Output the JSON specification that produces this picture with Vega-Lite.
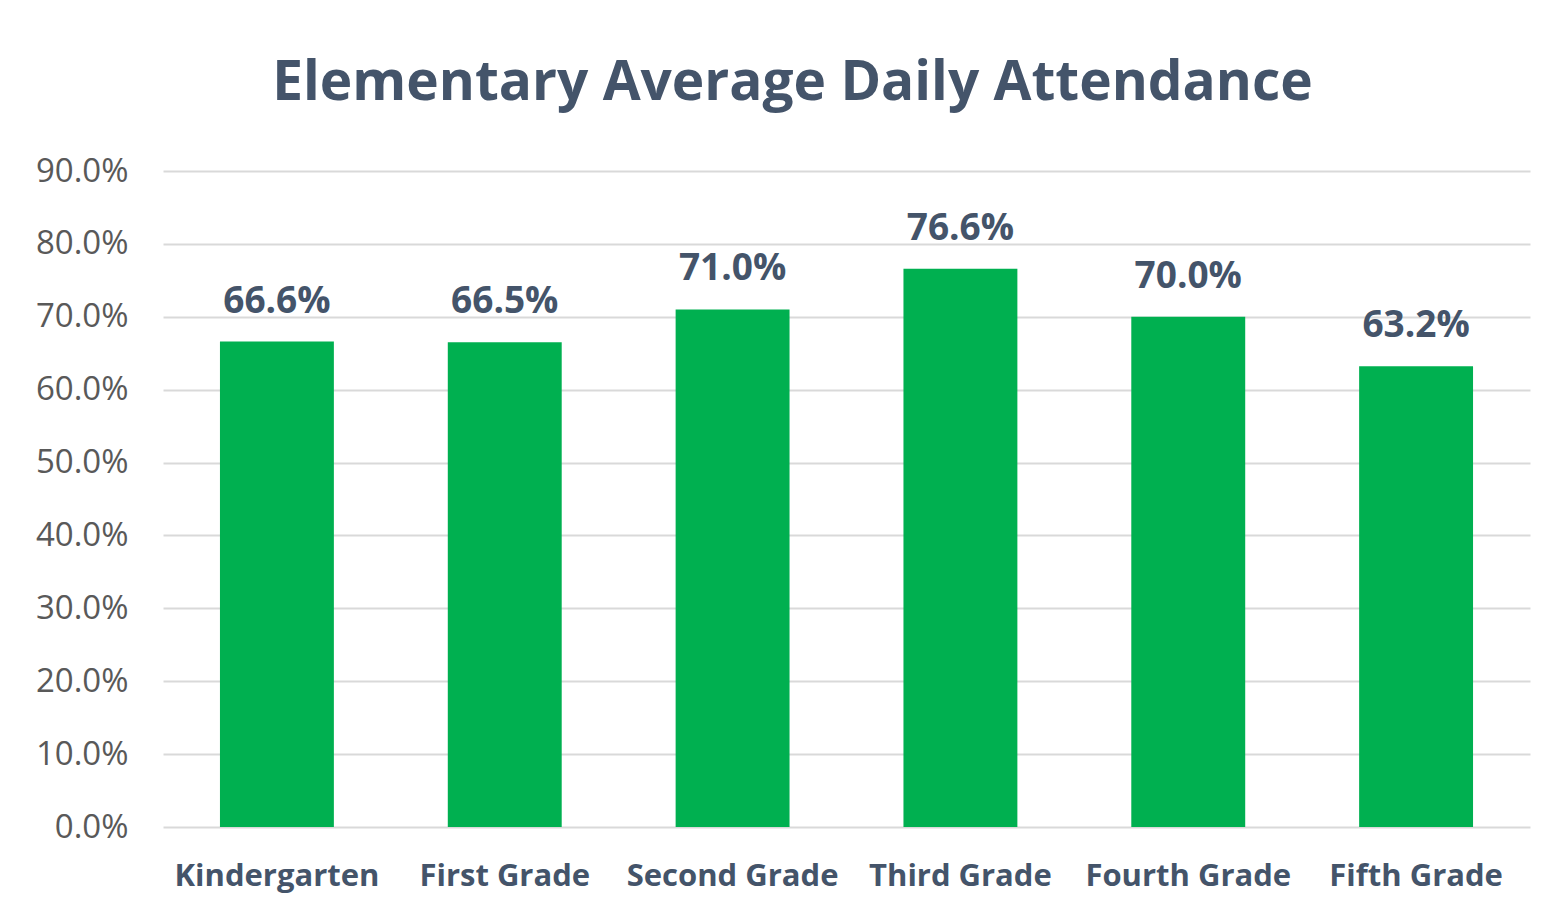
{
  "$schema": "https://vega.github.io/schema/vega-lite/v6.json",
  "width": 1367,
  "height": 656,
  "autosize": "none",
  "padding": {"left": 163, "top": 171, "right": 36, "bottom": 92},
  "background": "white",
  "title": {
    "text": "Elementary Average Daily Attendance",
    "font": "Open Sans",
    "fontSize": 55,
    "fontWeight": "bold",
    "color": "#44546A",
    "anchor": "middle",
    "dx": -54,
    "baseline": "alphabetic",
    "offset": 0
  },
  "data": {
    "values": [
      {"grade": "Kindergarten", "rate": 0.666},
      {"grade": "First Grade", "rate": 0.665},
      {"grade": "Second Grade", "rate": 0.710},
      {"grade": "Third Grade", "rate": 0.766},
      {"grade": "Fourth Grade", "rate": 0.700},
      {"grade": "Fifth Grade", "rate": 0.632}
    ]
  },
  "encoding": {
    "x": {
      "field": "grade",
      "type": "nominal",
      "sort": null,
      "scale": {"paddingInner": 0.5, "paddingOuter": 0.25},
      "axis": {
        "title": null,
        "labelAngle": 0,
        "domain": false,
        "ticks": false,
        "labelPadding": 34,
        "labelLimit": 0,
        "labelOverlap": false,
        "labelFont": "Open Sans",
        "labelFontSize": 31,
        "labelFontWeight": "bold",
        "labelColor": "#44546A"
      }
    },
    "y": {
      "field": "rate",
      "type": "quantitative",
      "scale": {"domain": [0, 0.9], "nice": false},
      "axis": {
        "title": null,
        "format": ".1%",
        "values": [0, 0.1, 0.2, 0.3, 0.4, 0.5, 0.6, 0.7, 0.8, 0.9],
        "domain": false,
        "ticks": false,
        "labelPadding": 35,
        "labelFont": "Open Sans",
        "labelFontSize": 33,
        "labelColor": "#595959",
        "gridColor": "#D9D9D9",
        "gridWidth": 2
      }
    }
  },
  "layer": [
    {"mark": {"type": "bar", "color": "#00B050"}},
    {
      "mark": {
        "type": "text",
        "baseline": "alphabetic",
        "dy": -29,
        "font": "Open Sans",
        "fontSize": 37,
        "fontWeight": "bold",
        "color": "#44546A"
      },
      "encoding": {"text": {"field": "rate", "type": "quantitative", "format": ".1%"}}
    }
  ],
  "config": {"view": {"stroke": null}}
}
